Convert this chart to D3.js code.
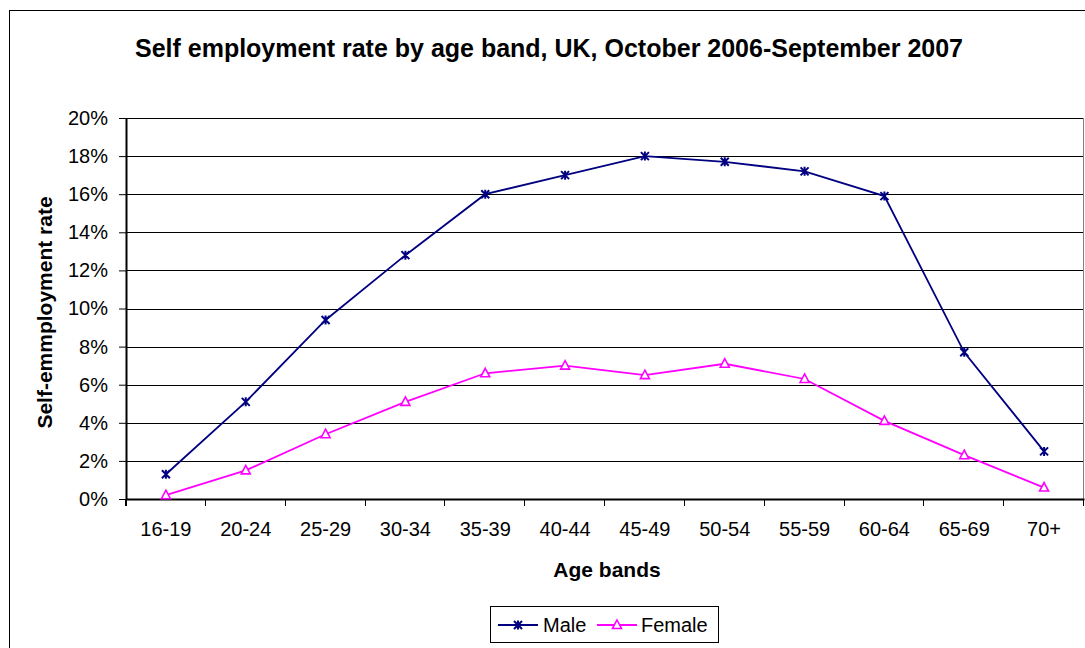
<!DOCTYPE html>
<html>
<head>
<meta charset="utf-8">
<script src="https://cdn.jsdelivr.net/npm/d3@7"></script>
<style>
  html, body { margin: 0; padding: 0; background: #fff; }
  svg { display: block; font-family: Arial, "Liberation Sans", sans-serif; }
</style>
</head>
<body>
<svg id="chart" width="1085" height="648"></svg>
<script>
// Self employment rate (%) by age band, UK, Oct 2006 - Sep 2007
const ageBands = ["16-19", "20-24", "25-29", "30-34", "35-39", "40-44", "45-49", "50-54", "55-59", "60-64", "65-69", "70+"];
const maleRate = [1.3, 5.1, 9.4, 12.8, 16.0, 17.0, 18.0, 17.7, 17.2, 15.9, 7.7, 2.5];
const femaleRate = [0.2, 1.5, 3.4, 5.1, 6.6, 7.0, 6.5, 7.1, 6.3, 4.1, 2.3, 0.6];
const yTicks = [0, 2, 4, 6, 8, 10, 12, 14, 16, 18, 20];

const svg = d3.select("#chart");
const plot = { left: 126, right: 1084, top: 118, bottom: 499 };
const FONT = "Arial, 'Liberation Sans', sans-serif";

// outer chart frame
svg.append("rect")
  .attr("x", 9.5).attr("y", 10.5)
  .attr("width", 1200).attr("height", 800)
  .attr("fill", "#fff").attr("stroke", "#000").attr("stroke-width", 1);

const x = d3.scaleBand().domain(ageBands).range([plot.left, plot.right]).padding(0);
const y = d3.scaleLinear().domain([0, 20]).range([plot.bottom, plot.top]);

// horizontal gridlines
svg.append("g")
  .selectAll("line")
  .data(yTicks.filter(d => d > 0))
  .join("line")
  .attr("x1", plot.left).attr("x2", plot.right)
  .attr("y1", d => Math.round(y(d)) + 0.5).attr("y2", d => Math.round(y(d)) + 0.5)
  .attr("stroke", "#000").attr("stroke-width", 1);

// right edge of plot area
svg.append("line")
  .attr("x1", plot.right - 0.5).attr("x2", plot.right - 0.5)
  .attr("y1", y(20)).attr("y2", plot.bottom)
  .attr("stroke", "#808080").attr("stroke-width", 1);

// y axis
const yAxis = d3.axisLeft(y)
  .tickValues(yTicks)
  .tickFormat(d => d + "%")
  .tickSizeInner(7).tickSizeOuter(0).tickPadding(11);
const gy = svg.append("g").attr("transform", `translate(${plot.left},0)`).call(yAxis);
gy.select(".domain").attr("stroke", "#000").attr("stroke-width", 2);
gy.selectAll(".tick line").attr("stroke", "#000").attr("stroke-width", 1);
gy.selectAll(".tick text").attr("font-size", 20).attr("fill", "#000")
  .attr("font-family", FONT);

// x axis: ticks sit between categories
const xAxis = d3.axisBottom(x).tickSize(0).tickPadding(23);
const gx = svg.append("g").attr("transform", `translate(0,${plot.bottom})`).call(xAxis);
gx.select(".domain").attr("stroke", "#000").attr("stroke-width", 2);
gx.selectAll(".tick text").attr("font-size", 20).attr("fill", "#000")
  .attr("font-family", FONT);
gx.append("g")
  .selectAll("line")
  .data(ageBands.slice(1).concat(["__end"]))
  .join("line")
  .attr("x1", (d, i) => Math.round(plot.left + x.bandwidth() * (i + 1)) - 0.5)
  .attr("x2", (d, i) => Math.round(plot.left + x.bandwidth() * (i + 1)) - 0.5)
  .attr("y1", 0).attr("y2", 7)
  .attr("stroke", "#000").attr("stroke-width", 1);
gx.append("line")
  .attr("x1", plot.left).attr("x2", plot.left).attr("y1", 0).attr("y2", 7)
  .attr("stroke", "#000").attr("stroke-width", 2);

const cx = d => x(d) + x.bandwidth() / 2;

const line = d3.line().x(d => cx(d.band)).y(d => y(d.v));

const series = [
  { name: "Male", values: maleRate, color: "#000080", marker: "star" },
  { name: "Female", values: femaleRate, color: "#FF00FF", marker: "triangle" }
];

function drawMarker(g, type, color) {
  if (type === "star") {
    g.append("path")
      .attr("d", "M-4,-4L4,4M-4,4L4,-4M0,-4.5L0,4.5")
      .attr("stroke", color).attr("stroke-width", 2).attr("fill", "none");
  } else {
    g.append("path")
      .attr("d", "M0,-5L4.5,3.5L-4.5,3.5Z")
      .attr("stroke", color).attr("stroke-width", 1.6).attr("fill", "#fff");
  }
}

series.forEach(s => {
  const pts = s.values.map((v, i) => ({ band: ageBands[i], v }));
  svg.append("path")
    .datum(pts)
    .attr("d", line)
    .attr("fill", "none")
    .attr("stroke", s.color)
    .attr("stroke-width", 1.8);
  svg.append("g")
    .selectAll("g")
    .data(pts)
    .join("g")
    .attr("transform", d => `translate(${cx(d.band)},${y(d.v)})`)
    .each(function () { drawMarker(d3.select(this), s.marker, s.color); });
});

// title
svg.append("text")
  .attr("x", 549).attr("y", 57)
  .attr("text-anchor", "middle")
  .attr("font-size", 25).attr("font-weight", "bold")
  .text("Self employment rate by age band, UK, October 2006-September 2007");

// axis titles
svg.append("text")
  .attr("x", 607).attr("y", 577)
  .attr("text-anchor", "middle")
  .attr("font-size", 21).attr("font-weight", "bold")
  .text("Age bands");

svg.append("text")
  .attr("transform", `translate(52,${(plot.top + plot.bottom) / 2 + 4}) rotate(-90)`)
  .attr("text-anchor", "middle")
  .attr("font-size", 21).attr("font-weight", "bold")
  .text("Self-emmployment rate");

// legend
const legend = svg.append("g");
legend.append("rect")
  .attr("x", 490.5).attr("y", 606.5).attr("width", 228).attr("height", 36)
  .attr("fill", "#fff").attr("stroke", "#000").attr("stroke-width", 1);

const legendItems = [
  { s: series[0], x0: 498, tx: 543 },
  { s: series[1], x0: 597, tx: 641 }
];
legendItems.forEach(it => {
  const ly = 625;
  legend.append("line")
    .attr("x1", it.x0).attr("x2", it.x0 + 40)
    .attr("y1", ly).attr("y2", ly)
    .attr("stroke", it.s.color).attr("stroke-width", 1.8);
  const mg = legend.append("g").attr("transform", `translate(${it.x0 + 20},${ly})`);
  drawMarker(mg, it.s.marker, it.s.color);
  legend.append("text")
    .attr("x", it.tx).attr("y", ly + 7)
    .attr("font-size", 20)
    .text(it.s.name);
});
</script>
</body>
</html>
